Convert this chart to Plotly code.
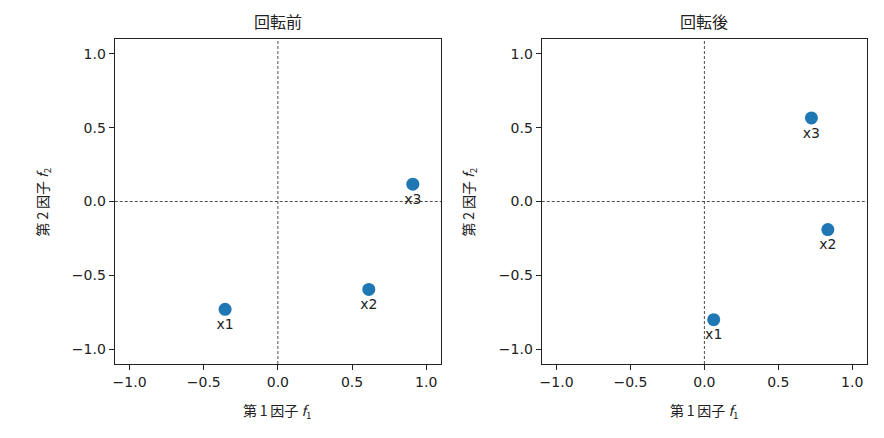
import plotly.graph_objects as go

names = ["x1", "x2", "x3"]
before_f1 = [-0.356, 0.613, 0.910]
before_f2 = [-0.730, -0.595, 0.117]
after_f1 = [0.063, 0.835, 0.724]
after_f2 = [-0.800, -0.190, 0.566]
titles = ["回転前", "回転後"]
tick_vals = [-1.0, -0.5, 0.0, 0.5, 1.0]
tick_text = ["\u22121.0", "\u22120.5", "0.0", "0.5", "1.0"]

JP = "Noto Sans CJK JP"
NUM = "DejaVu Sans"
BLUE = "#1f77b4"

# page body has an 8px margin; the figure is sized/offset to compensate
OFF = 8
W, H = 884 - 2 * OFF, 438 - 2 * OFF


def px(p):
    return (p - OFF) / W


def py(p):
    return 1 - (p - OFF) / H


fig = go.Figure()

panels = [
    (before_f1, before_f2, "x", "y", [px(113), px(440)]),
    (after_f1, after_f2, "x2", "y2", [px(541), px(867)]),
]
ydom = [py(364), py(39)]

for i, (xs, ys, xa, ya, xdom) in enumerate(panels):
    fig.add_trace(go.Scatter(
        x=xs, y=ys, mode="markers+text", text=names,
        textposition="bottom center",
        textfont=dict(family=NUM, size=14, color="#222"),
        marker=dict(size=13, color=BLUE),
        xaxis=xa, yaxis=ya, showlegend=False, cliponaxis=False,
    ))
    axsuffix = "" if i == 0 else "2"
    common = dict(
        range=[-1.1, 1.1], tickvals=tick_vals, ticktext=tick_text,
        ticks="outside", ticklen=5, tickwidth=1, tickcolor="#222",
        showline=True, linecolor="#222", linewidth=1.2, mirror=True,
        showgrid=False, zeroline=False,
        tickfont=dict(family=NUM, size=14, color="#222"),
    )
    fig.layout["xaxis" + axsuffix] = dict(common, domain=xdom, anchor=ya)
    fig.layout["yaxis" + axsuffix] = dict(common, domain=ydom, anchor=xa)
    fig.add_shape(type="line", xref=xa, yref=ya, x0=0, x1=0, y0=-1.1, y1=1.1,
                  line=dict(color="#222", width=0.8, dash="3px,2px"))
    fig.add_shape(type="line", xref=xa, yref=ya, x0=-1.1, x1=1.1, y0=0, y1=0,
                  line=dict(color="#222", width=0.8, dash="3px,2px"))
    cx = (xdom[0] + xdom[1]) / 2
    fig.add_annotation(text=titles[i], x=cx, y=py(21), xref="paper", yref="paper",
                       xanchor="center", yanchor="middle", showarrow=False,
                       font=dict(family=JP, size=16, color="#222"))
    fig.add_annotation(text="第\u20091\u2009因子 <i>f</i><sub>1</sub>", x=cx, y=py(411),
                       xref="paper", yref="paper", xanchor="center", yanchor="middle",
                       showarrow=False, font=dict(family=JP, size=14, color="#222"))
    ylx = 41 if i == 0 else 468
    fig.add_annotation(text="第\u20092\u2009因子 <i>f</i><sub>2</sub>", x=px(ylx),
                       y=(ydom[0] + ydom[1]) / 2, xref="paper", yref="paper",
                       xanchor="center", yanchor="middle", showarrow=False, textangle=-90,
                       font=dict(family=JP, size=14, color="#222"))

fig.update_layout(
    width=W, height=H, margin=dict(l=0, r=0, t=0, b=0),
    paper_bgcolor="white", plot_bgcolor="white",
)
fig.write_html("out.html")
